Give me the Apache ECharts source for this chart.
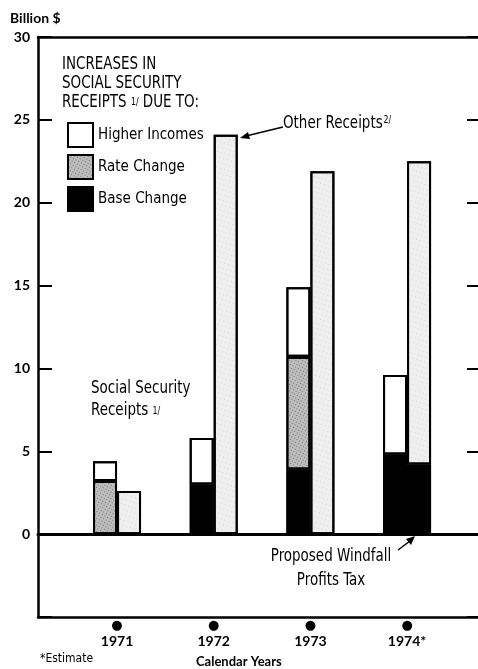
<!DOCTYPE html>
<html><head><meta charset="utf-8">
<script src="https://cdn.jsdelivr.net/npm/echarts@6/dist/echarts.min.js"></script>
<style>html,body{margin:0;padding:0;background:#fff;overflow:hidden}#c{width:478px;height:669px}</style>
</head><body><div id="c"></div>
<script>
// ---- data (billion $) ----
const years = ['1971', '1972', '1973', '1974*'];
// Social Security receipts increases (stacked segments)
const baseChange    = [null, 3.0, 3.9, 4.8];
const rateChange    = [3.2, null, 6.8, null];
const higherIncomes = [1.2, 2.8, 4.2, 4.8];
// Other receipts (stacked segments)
const windfallTax   = [null, null, null, 4.2];
const otherReceipts = [2.6, 24.1, 21.9, 18.3];
const yMin = -5, yMax = 30, yStep = 5;

const NARROW = "'Liberation Sans Narrow','DejaVu Sans Condensed',sans-serif";
const BOLD = "Lato,'DejaVu Sans',sans-serif";

const chart = echarts.init(document.getElementById('c'), null, {renderer: 'canvas'});

const dotsLight = {symbol: 'rect', symbolSize: 0.6, dashArrayX: [1, 3], dashArrayY: [1, 4], rotation: 0.3, color: 'rgba(0,0,0,0.35)'};
const dotsDark = {symbol: 'rect', symbolSize: 0.8, dashArrayX: [1, 1.5], dashArrayY: [1, 2], rotation: 0.5, color: 'rgba(0,0,0,0.5)'};
const noDecal = {symbol: 'none'};

function barSeries(name, data, stack, color, decal) {
  return {
    name, type: 'bar', xAxisIndex: 2, yAxisIndex: 2, stack, data,
    barWidth: 24, barGap: '0%',
    itemStyle: {color, borderColor: '#000', borderWidth: 2, decal: decal || noDecal},
    emphasis: {disabled: true}, animation: false
  };
}

const narrowText = (extra) => Object.assign({type: 'text', scaleX: 0.88, scaleY: 1}, extra);
const frameLine = {show: true, onZero: false, lineStyle: {color: '#000', width: 2.5}};
const hidden = {axisTick: {show: false}, axisLabel: {show: false}, splitLine: {show: false}};

chart.setOption({
  animation: false,
  aria: {enabled: true, decal: {show: true}},
  grid: [
    {left: 38, width: 450, top: 37, height: 580, show: false},
    {left: 68.7, width: 386.7, top: 37, height: 580, show: false},
    {left: 38, width: 450, top: 37, height: 580, show: false}
  ],
  xAxis: [
    Object.assign({gridIndex: 0, type: 'value', min: 0, max: 1, position: 'bottom',
      axisLine: {show: true, onZero: true, lineStyle: {color: '#000', width: 3}}}, hidden),
    Object.assign({gridIndex: 0, type: 'value', min: 0, max: 1, position: 'top', axisLine: frameLine}, hidden),
    {gridIndex: 1, type: 'category', data: years, boundaryGap: true,
     axisLine: {show: false, onZero: false}, axisTick: {show: false}, splitLine: {show: false},
     axisLabel: {margin: 2, formatter: v => '{d|●}\n{y|' + v + '}',
       rich: {d: {fontSize: 13, lineHeight: 14, color: '#000', align: 'center', fontFamily: 'DejaVu Sans'},
              y: {fontSize: 14, fontWeight: 'bold', fontFamily: BOLD, color: '#000', lineHeight: 17, align: 'center'}}}},
    Object.assign({gridIndex: 2, type: 'value', min: 0, max: 1, position: 'bottom', axisLine: frameLine}, hidden)
  ],
  yAxis: [
    {gridIndex: 0, type: 'value', min: yMin, max: yMax, interval: yStep, position: 'left',
     axisLine: frameLine, splitLine: {show: false},
     axisTick: {show: true, inside: true, length: 14, lineStyle: {color: '#000', width: 2}},
     axisLabel: {margin: 8, color: '#000', fontSize: 14, fontWeight: 'bold', fontFamily: BOLD,
       formatter: v => (v < 0 ? '' : String(v))}},
    {gridIndex: 0, type: 'value', min: yMin, max: yMax, interval: yStep, position: 'left', offset: -440,
     axisLine: {show: false}, splitLine: {show: false}, axisLabel: {show: false},
     axisTick: {show: true, inside: false, length: 11, lineStyle: {color: '#000', width: 2}}},
    {gridIndex: 1, type: 'value', min: yMin, max: yMax, interval: yStep, show: false},
    {gridIndex: 2, type: 'value', min: yMin, max: yMax, interval: yStep, show: false}
  ],
  legend: {
    left: 62, top: 117, orient: 'vertical', itemWidth: 25, itemHeight: 24, itemGap: 6,
    icon: 'rect', selectedMode: false,
    data: ['Higher Incomes', 'Rate Change', 'Base Change'],
    textStyle: {fontFamily: NARROW, fontSize: 15, color: '#000'},
    itemStyle: {borderColor: '#000', borderWidth: 2}
  },
  series: [
    barSeries('Base Change', baseChange, 'ss', '#000'),
    barSeries('Rate Change', rateChange, 'ss', '#bdbdbd', dotsDark),
    barSeries('Higher Incomes', higherIncomes, 'ss', '#fff'),
    barSeries('Proposed Windfall Profits Tax', windfallTax, 'other', '#000'),
    barSeries('Other Receipts', otherReceipts, 'other', '#efefef', dotsLight)
  ],
  graphic: [
    {type: 'text', left: 10, top: 11, style: {text: 'Billion $', font: 'bold 14px ' + BOLD, fill: '#000'}},
    narrowText({x: 62, y: 55, style: {
      text: 'INCREASES IN\nSOCIAL SECURITY\nRECEIPTS {s|1/} DUE TO:', font: '17px ' + NARROW, fill: '#000', lineHeight: 19,
      rich: {s: {font: '10px ' + NARROW, fill: '#000'}}}}),
    narrowText({x: 283, y: 115, style: {
      text: 'Other Receipts{s|2/}', font: '17px ' + NARROW, fill: '#000',
      rich: {s: {font: '10px ' + NARROW, fill: '#000', padding: [0, 0, 8, 1]}}}}),
    narrowText({x: 91, y: 378, style: {
      text: 'Social Security\nReceipts {s|1/}', font: '17px ' + NARROW, fill: '#000', lineHeight: 22,
      rich: {s: {font: '10px ' + NARROW, fill: '#000'}}}}),
    narrowText({x: 331, y: 545, style: {
      text: 'Proposed Windfall\nProfits Tax', font: '17px ' + NARROW, fill: '#000', lineHeight: 24, align: 'center'}}),
    {type: 'text', left: 40, top: 653, style: {text: '*Estimate', font: '12px ' + NARROW, fill: '#000'}},
    {type: 'text', left: 196, top: 655, style: {text: 'Calendar Years', font: 'bold 13px ' + BOLD, fill: '#000', letterSpacing: 1.2}},
    // arrows
    {type: 'line', shape: {x1: 283, y1: 127, x2: 246, y2: 136}, style: {stroke: '#000', lineWidth: 1.5}},
    {type: 'polygon', shape: {points: [[240, 138], [248, 132], [250, 139]]}, style: {fill: '#000'}},
    {type: 'line', shape: {x1: 398, y1: 550, x2: 410, y2: 541}, style: {stroke: '#000', lineWidth: 1.5}},
    {type: 'polygon', shape: {points: [[415, 536], [406, 539], [411, 545]]}, style: {fill: '#000'}}
  ]
});
</script>
</body></html>
